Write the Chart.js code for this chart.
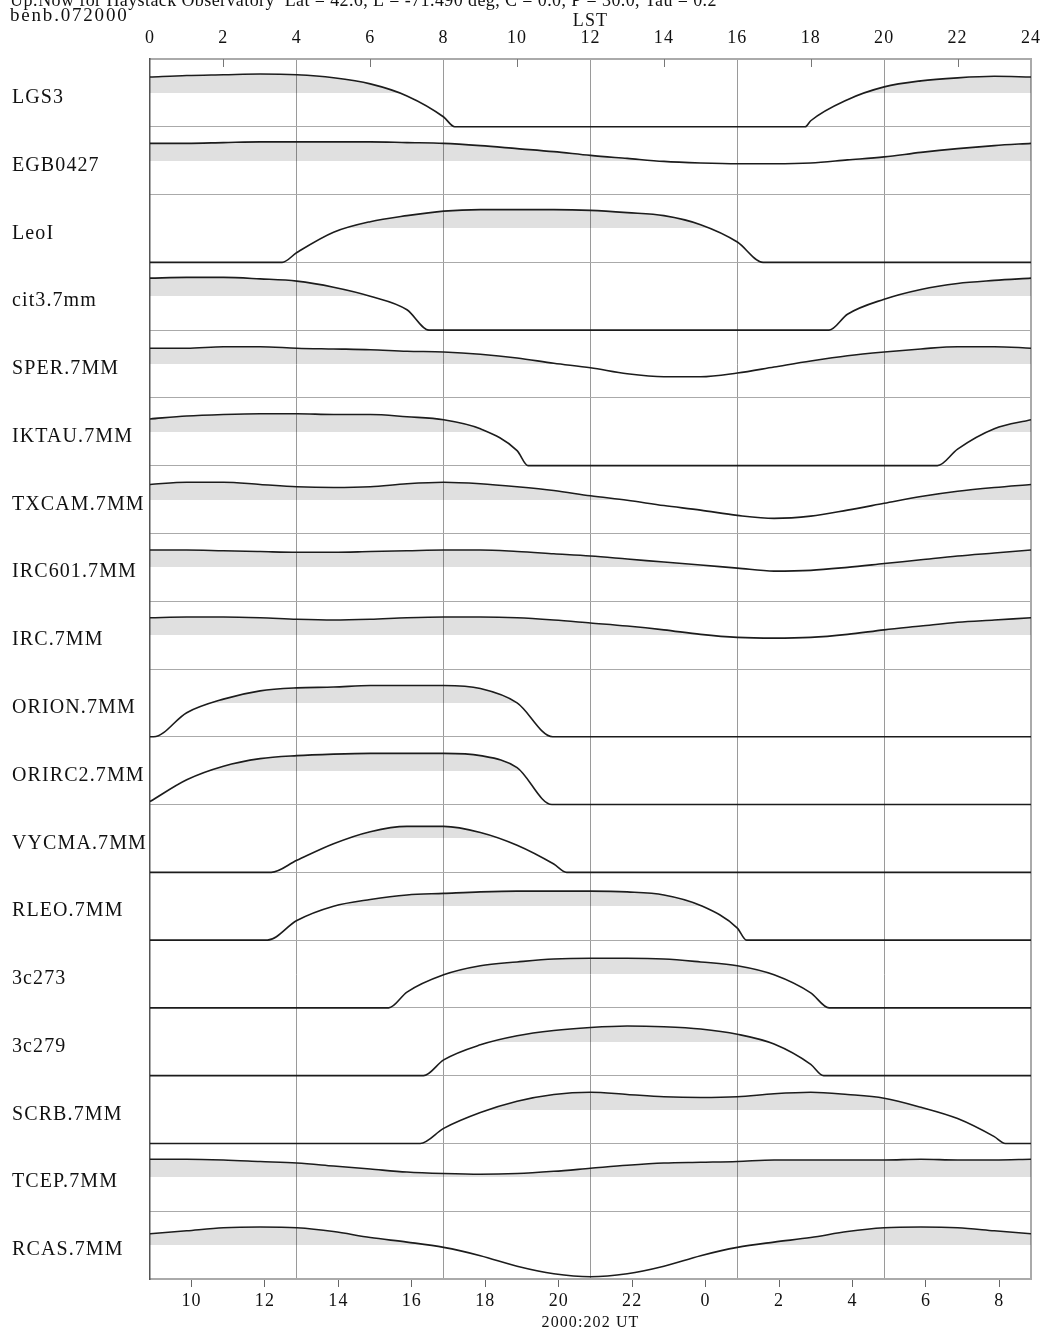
<!DOCTYPE html>
<html>
<head>
<meta charset="utf-8">
<script src="https://cdn.jsdelivr.net/npm/chart.js@4.4.1/dist/chart.umd.min.js"></script>
<style>
html,body{margin:0;padding:0;background:#fff;}
#wrap{position:relative;width:1048px;height:1337px;}
</style>
</head>
<body>
<div id="wrap"><canvas id="c" width="1048" height="1337"></canvas></div>
<script>
// ---------- texts ----------
const HEADER_LINE1 = "Up:Now for Haystack Observatory  Lat = 42.6, L = -71.490 deg, C = 0.0, P = 30.0, Tau = 0.2";
const HEADER_LINE2 = "benb.072000";
const LST_TITLE = "LST";
const UT_TITLE = "2000:202 UT";

// ---------- axes ----------
const LST_HOURS = [0,1,2,3,4,5,6,7,8,9,10,11,12,13,14,15,16,17,18,19,20,21,22,23,24];
const LST_RANGE = [0, 24];
const LST_GRID_HOURS = [4, 8, 12, 16, 20];
const LST_INNER_TICKS = [2, 6, 10, 14, 18, 22];
const UT_TICK_HOURS = [-14,-12,-10,-8,-6,-4,-2,0,2,4,6,8];
const UT_TICK_LABELS = ['10','12','14','16','18','20','22','0','2','4','6','8'];
const UT_RANGE = [-15.13, 8.86];

// ---------- sources ----------
const SOURCES = ['LGS3','EGB0427','LeoI','cit3.7mm','SPER.7MM','IKTAU.7MM','TXCAM.7MM','IRC601.7MM','IRC.7MM',
  'ORION.7MM','ORIRC2.7MM','VYCMA.7MM','RLEO.7MM','3c273','3c279','SCRB.7MM','TCEP.7MM','RCAS.7MM'];

// elevation (deg) at each LST hour, 0 = below horizon
const ELEV_LGS3     = [66,68,69,70,69,65,57,41,13,0,0,0,0,0,0,0,0,0,8,36,53,61,65,67,66];
const ELEV_EGB0427  = [68,68,69,70,70,70,70,69,68,65,61,57,52,48,44,42,41,41,42,46,50,56,61,65,68];
const ELEV_LEOI     = [0,0,0,0,13,40,54,62,68,70,70,70,69,66,62,50,27,0,0,0,0,0,0,0,0];
const ELEV_CIT3     = [69,70,70,68,65,57,45,27,0,0,0,0,0,0,0,0,0,0,0,21,41,54,62,66,69];
const ELEV_SPER     = [66,66,68,68,66,65,64,62,61,58,53,46,40,32,28,28,33,41,49,56,61,65,68,68,66];
const ELEV_IKTAU    = [62,66,68,69,69,68,68,65,61,49,20,0,0,0,0,0,0,0,0,0,0,0,22,49,61];
const ELEV_TXCAM    = [65,68,68,65,62,61,62,66,68,66,62,57,50,44,37,31,24,20,23,31,40,49,56,61,65];
const ELEV_IRC601   = [68,68,67,66,65,65,66,67,68,68,66,63,60,56,52,48,44,40,41,45,50,55,60,64,68];
const ELEV_IRC      = [68,69,69,68,66,65,66,68,69,69,68,65,61,57,52,46,42,41,42,46,52,57,62,65,68];
const ELEV_ORION    = [0,32,50,61,65,66,68,68,68,64,45,0,0,0,0,0,0,0,0,0,0,0,0,0,0];
const ELEV_ORIRC2   = [4,33,51,61,65,67,68,68,68,65,49,0,0,0,0,0,0,0,0,0,0,0,0,0,0];
const ELEV_VYCMA    = [0,0,0,0,16,38,54,61,61,53,36,11,0,0,0,0,0,0,0,0,0,0,0,0,0];
const ELEV_RLEO     = [0,0,0,0,26,45,54,60,62,64,65,65,65,64,60,46,16,0,0,0,0,0,0,0,0];
const ELEV_3C273    = [0,0,0,0,0,0,0,21,44,56,61,65,66,66,65,61,56,44,20,0,0,0,0,0,0];
const ELEV_3C279    = [0,0,0,0,0,0,0,0,21,41,53,60,64,66,65,62,55,42,15,0,0,0,0,0,0];
const ELEV_SCRB     = [0,0,0,0,0,0,0,0,20,41,56,65,68,65,62,61,62,66,68,65,60,48,33,9,0];
const ELEV_TCEP     = [69,69,68,66,64,60,56,52,50,49,50,53,57,61,64,65,66,68,68,68,68,69,68,68,69];
const ELEV_RCAS     = [60,64,68,69,68,63,55,49,42,31,17,7,3,7,17,31,42,49,55,63,68,69,68,64,60];

// LST of horizon crossings (rise / set)
const HORIZON_LGS3 = [8.3, 17.85];
const HORIZON_EGB0427 = [];
const HORIZON_LEOI = [3.6, 16.7];
const HORIZON_CIT3 = [7.6, 18.5];
const HORIZON_SPER = [];
const HORIZON_IKTAU = [10.3, 21.45];
const HORIZON_TXCAM = [];
const HORIZON_IRC601 = [];
const HORIZON_IRC = [];
const HORIZON_ORION = [0.1, 10.97];
const HORIZON_ORIRC2 = [10.95];
const HORIZON_VYCMA = [3.3, 11.35];
const HORIZON_RLEO = [3.2, 16.25];
const HORIZON_3C273 = [6.5, 18.5];
const HORIZON_3C279 = [7.45, 18.35];
const HORIZON_SCRB = [7.36, 23.3];
const HORIZON_TCEP = [];
const HORIZON_RCAS = [];

const ELEV = [ELEV_LGS3,ELEV_EGB0427,ELEV_LEOI,ELEV_CIT3,ELEV_SPER,ELEV_IKTAU,ELEV_TXCAM,ELEV_IRC601,ELEV_IRC,
  ELEV_ORION,ELEV_ORIRC2,ELEV_VYCMA,ELEV_RLEO,ELEV_3C273,ELEV_3C279,ELEV_SCRB,ELEV_TCEP,ELEV_RCAS];
const HORIZON = [HORIZON_LGS3,HORIZON_EGB0427,HORIZON_LEOI,HORIZON_CIT3,HORIZON_SPER,HORIZON_IKTAU,HORIZON_TXCAM,
  HORIZON_IRC601,HORIZON_IRC,HORIZON_ORION,HORIZON_ORIRC2,HORIZON_VYCMA,HORIZON_RLEO,HORIZON_3C273,HORIZON_3C279,
  HORIZON_SCRB,HORIZON_TCEP,HORIZON_RCAS];

const ROW_SPAN = 90;      // degrees per row
const SHADE_LEVEL = 45;   // shaded above this elevation
const LABEL_LEVEL = 38.5; // row label position
const N = SOURCES.length;

// ---------- styles ----------
const SERIF = "'Liberation Serif','DejaVu Serif',serif";
const INK = '#111';

const datasets = SOURCES.map((name, i) => {
  const off = (N - 1 - i) * ROW_SPAN;
  const pts = LST_HOURS.map((h, j) => ({x: h, y: off + ELEV[i][j]}));
  HORIZON[i].forEach(t => pts.push({x: t, y: off}));
  pts.sort((a, b) => a.x - b.x);
  return {
    label: name,
    data: pts,
    xAxisID: 'x',
    yAxisID: 'y',
    borderColor: '#1c1c1c',
    borderWidth: 1.6,
    pointRadius: 0,
    cubicInterpolationMode: 'monotone',
    fill: {target: {value: off + SHADE_LEVEL}, above: 'rgba(0,0,0,0.12)', below: 'rgba(0,0,0,0)'}
  };
});

const spacingPlugin = {
  id: 'spacing',
  beforeDraw(chart) { try { chart.ctx.letterSpacing = '1.1px'; } catch (e) {} }
};

const headerPlugin = {
  id: 'header',
  afterDraw(chart) {
    const ctx = chart.ctx;
    ctx.save();
    ctx.fillStyle = INK;
    ctx.textAlign = 'left';
    ctx.textBaseline = 'alphabetic';
    ctx.font = "18px " + SERIF;
    try { ctx.letterSpacing = '0.4px'; } catch (e) {}
    ctx.fillText(HEADER_LINE1, 10, 6);
    try { ctx.letterSpacing = '1.8px'; } catch (e) {}
    ctx.font = "19px " + SERIF;
    ctx.fillText(HEADER_LINE2, 10, 21);
    ctx.restore();
  }
};

const innerTicksPlugin = {
  id: 'innerTicks',
  afterDatasetsDraw(chart) {
    const ctx = chart.ctx, xs = chart.scales.x, top = chart.chartArea.top;
    ctx.save();
    ctx.strokeStyle = '#777';
    ctx.lineWidth = 1;
    LST_INNER_TICKS.forEach(v => {
      const px = Math.round(xs.getPixelForValue(v)) + 0.5;
      ctx.beginPath();
      ctx.moveTo(px, top);
      ctx.lineTo(px, top + 8);
      ctx.stroke();
    });
    ctx.restore();
  }
};

const chart = new Chart(document.getElementById('c'), {
  type: 'line',
  data: {datasets},
  plugins: [spacingPlugin, headerPlugin, innerTicksPlugin],
  options: {
    responsive: false,
    animation: false,
    devicePixelRatio: 1,
    layout: {padding: {left: 12, right: 17, top: 0, bottom: 0}},
    plugins: {legend: {display: false}, tooltip: {enabled: false}, title: {display: false}},
    scales: {
      x: {
        type: 'linear', position: 'top', min: LST_RANGE[0], max: LST_RANGE[1],
        ticks: {stepSize: 2, font: {family: SERIF, size: 18}, color: INK, padding: 10, maxRotation: 0, autoSkip: false},
        grid: {
          drawTicks: false, lineWidth: 1,
          color: c => LST_GRID_HOURS.includes(c.tick.value) ? '#9a9a9a' : 'rgba(0,0,0,0)'
        },
        border: {display: true, color: '#aaa', width: 2},
        title: {display: true, text: LST_TITLE, font: {family: SERIF, size: 18}, color: INK, padding: {top: 10, bottom: 0}},
        afterFit: s => { s.height = 59; s.paddingLeft = 0; s.paddingRight = 0; }
      },
      xUT: {
        type: 'linear', position: 'bottom', min: UT_RANGE[0], max: UT_RANGE[1],
        afterBuildTicks: s => { s.ticks = UT_TICK_HOURS.map(v => ({value: v})); },
        ticks: {
          font: {family: SERIF, size: 18}, color: INK, padding: 3, maxRotation: 0, autoSkip: false,
          callback: v => UT_TICK_LABELS[UT_TICK_HOURS.indexOf(v)]
        },
        grid: {drawOnChartArea: false, drawTicks: true, tickLength: 8, color: '#666'},
        border: {display: true, color: '#aaa', width: 2},
        title: {display: true, text: UT_TITLE, font: {family: SERIF, size: 16}, color: INK, padding: {top: 0, bottom: 5}},
        afterFit: s => { s.height = 58; s.paddingLeft = 0; s.paddingRight = 0; }
      },
      yl: {
        type: 'linear', position: 'left', min: 0, max: N * ROW_SPAN,
        afterBuildTicks: s => { s.ticks = SOURCES.map((_, i) => ({value: (N - 1 - i) * ROW_SPAN + LABEL_LEVEL})); },
        ticks: {
          crossAlign: 'far', font: {family: SERIF, size: 20}, color: INK, autoSkip: false,
          callback: v => SOURCES[N - 1 - Math.round((v - LABEL_LEVEL) / ROW_SPAN)]
        },
        grid: {display: false, drawTicks: false},
        border: {display: true, color: '#555', width: 1.5},
        afterFit: s => { s.width = 138; s.paddingTop = 0; s.paddingBottom = 0; }
      },
      y: {
        type: 'linear', position: 'right', min: 0, max: N * ROW_SPAN,
        afterBuildTicks: s => { const t = []; for (let i = 0; i <= N; i++) t.push({value: i * ROW_SPAN}); s.ticks = t; },
        ticks: {display: false},
        grid: {color: '#aaa', lineWidth: 1, drawTicks: false},
        border: {display: true, color: '#aaa', width: 2},
        afterFit: s => { s.width = 0; s.paddingTop = 0; s.paddingBottom = 0; }
      }
    }
  }
});

// snap each shading level to a whole pixel row so the fill clip leaves no seam
const yScale = chart.scales.y;
chart.data.datasets.forEach((ds, i) => {
  const off = (N - 1 - i) * ROW_SPAN;
  const px = Math.round(yScale.getPixelForValue(off + SHADE_LEVEL));
  ds.fill = {target: {value: yScale.getValueForPixel(px)}, above: ds.fill.above, below: ds.fill.below};
});
chart.update();
</script>
</body>
</html>
